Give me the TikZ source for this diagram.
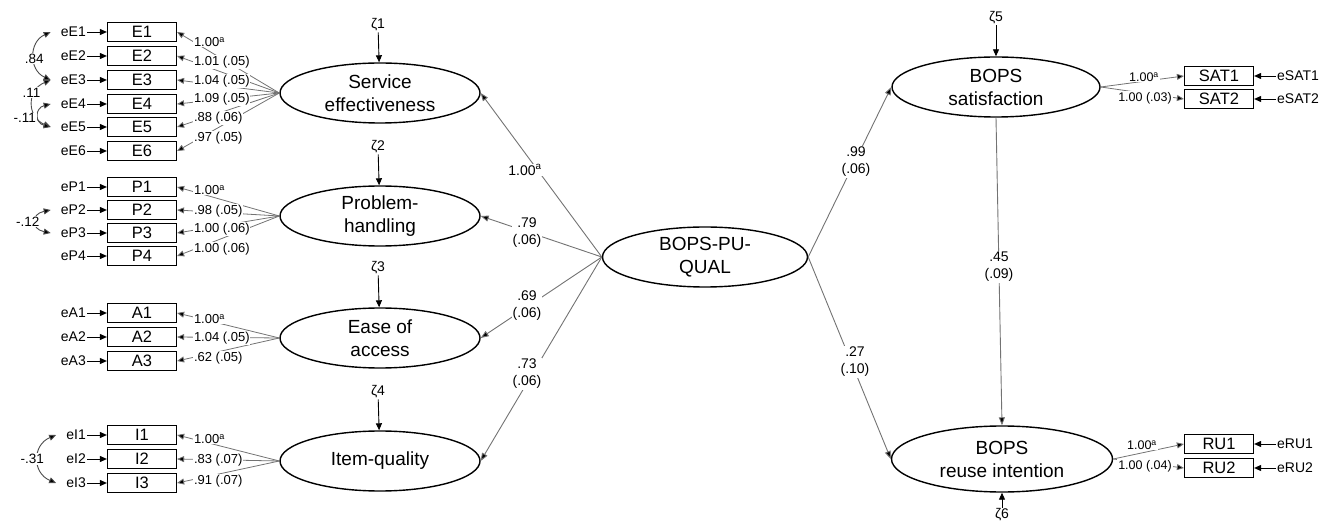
\documentclass[tikz,border=0pt]{standalone}
\usepackage{fontspec}
\setmainfont{Liberation Sans}
\usetikzlibrary{arrows.meta,shapes.geometric}
\begin{document}
\begin{tikzpicture}[x=1pt,y=-1pt,
  lat/.style={ellipse, draw=black, line width=1.4pt, minimum width=200pt, minimum height=60pt, inner sep=0pt, align=center, font=\fontsize{19}{23}\selectfont},
  obs/.style={rectangle, draw=black, line width=1.2pt, minimum width=69pt, minimum height=19pt, inner sep=0pt, font=\fontsize{16.5}{17}\selectfont},
  errl/.style={inner sep=1pt, anchor=east, font=\fontsize{14}{14}\selectfont},
  errr/.style={inner sep=1pt, anchor=west, font=\fontsize{14}{14}\selectfont},
  arr/.style={draw=black, line width=0.9pt, -{Triangle[length=7pt,width=6pt]}},
  load/.style={draw=black!55, line width=0.8pt, -{Triangle[length=7pt,width=6pt,fill=black]}},
  path/.style={draw=black!55, line width=0.9pt, -{Triangle[length=8pt,width=6pt,fill=black]}},
  cov/.style={draw=black!70, line width=0.9pt, {Triangle[length=7pt,width=6pt,fill=black]}-{Triangle[length=7pt,width=6pt,fill=black]}},
  llab/.style={fill=white, inner sep=0.8pt, anchor=west, font=\fontsize{13}{13}\selectfont},
  rlab/.style={fill=white, inner sep=0.8pt, font=\fontsize{12.5}{13}\selectfont},
  plab/.style={fill=white, inner sep=1pt, align=center, font=\fontsize{14}{17}\selectfont},
  clab/.style={fill=white, inner sep=0.8pt, font=\fontsize{13.5}{14}\selectfont},
  zlab/.style={inner sep=1pt, font=\fontsize{14}{14}\selectfont}
]
\useasboundingbox (0,0) rectangle (1336,526);

% latent variables
\node[lat] (se) at (380,93) {Service\\effectiveness};
\node[lat] (ph) at (380,216) {Problem-\\handling};
\node[lat] (ea) at (380,338) {Ease of\\access};
\node[lat] (iq) at (380,461) {Item-quality};
\node[lat, minimum width=205pt] (pu) at (705,257) {BOPS-PU-\\QUAL};
\node[lat, minimum width=208pt] (sat) at (996,87) {BOPS\\satisfaction};
\node[lat, minimum width=221pt, minimum height=66pt] (ru) at (1002,459) {BOPS\\reuse intention};

% disturbances
\node[zlab] (z1) at (378,25) {ζ1};
\node[zlab] (z2) at (378,147) {ζ2};
\node[zlab] (z3) at (378,268) {ζ3};
\node[zlab] (z4) at (378,392) {ζ4};
\node[zlab] (z5) at (996,18) {ζ5};
\node[zlab] (z6) at (1002,515) {ζ6};
\draw[arr] (z1) -- (se);
\draw[arr] (z2) -- (ph);
\draw[arr] (z3) -- (ea);
\draw[arr] (z4) -- (iq);
\draw[arr] (z5) -- (sat);
\draw[arr] (z6) -- (ru);

% indicators, left
\foreach \n/\y in {1/32,2/56,3/80,4/104,5/127,6/151}{
  \node[obs] (E\n) at (142,\y) {E\n};
  \node[errl] (eE\n) at (87,\y) {eE\n};
  \draw[arr] (eE\n) -- (E\n);
  \draw[load] (se.west) -- (E\n.east);
}
\foreach \n/\y in {1/187,2/210,3/233,4/256}{
  \node[obs] (P\n) at (142,\y) {P\n};
  \node[errl] (eP\n) at (87,\y) {eP\n};
  \draw[arr] (eP\n) -- (P\n);
  \draw[load] (ph.west) -- (P\n.east);
}
\foreach \n/\y in {1/313,2/337,3/361}{
  \node[obs] (A\n) at (142,\y) {A\n};
  \node[errl] (eA\n) at (87,\y) {eA\n};
  \draw[arr] (eA\n) -- (A\n);
  \draw[load] (ea.west) -- (A\n.east);
}
\foreach \n/\y in {1/435,2/459,3/483}{
  \node[obs] (I\n) at (142,\y) {I\n};
  \node[errl] (eI\n) at (87,\y) {eI\n};
  \draw[arr] (eI\n) -- (I\n);
  \draw[load] (iq.west) -- (I\n.east);
}

% loading labels, left
\foreach \y/\t in {42/{1.00\textsuperscript{a}},62/{1.01 (.05)},81/{1.04 (.05)},99/{1.09 (.05)},118/{.88 (.06)},138/{.97 (.05)},
                   190/{1.00\textsuperscript{a}},211/{.98 (.05)},229/{1.00 (.06)},249/{1.00 (.06)},
                   319/{1.00\textsuperscript{a}},338/{1.04 (.05)},358/{.62 (.05)},
                   439/{1.00\textsuperscript{a}},460/{.83 (.07)},481/{.91 (.07)}}{
  \node[llab] (ll\y) at (193,\y) {\t};
}

% indicators, right
\node[obs] (SAT1) at (1219,76) {SAT1};
\node[obs] (SAT2) at (1219,99) {SAT2};
\node[obs] (RU1) at (1219,444) {RU1};
\node[obs] (RU2) at (1219,468) {RU2};
\node[errr] (eSAT1) at (1276,76) {eSAT1};
\node[errr] (eSAT2) at (1276,99) {eSAT2};
\node[errr] (eRU1) at (1276,444) {eRU1};
\node[errr] (eRU2) at (1276,468) {eRU2};
\draw[arr] (eSAT1) -- (SAT1);
\draw[arr] (eSAT2) -- (SAT2);
\draw[arr] (eRU1) -- (RU1);
\draw[arr] (eRU2) -- (RU2);
\draw[load] (sat.east) -- (SAT1.west);
\draw[load] (sat.east) -- (SAT2.west);
\draw[load] (ru.east) -- (RU1.west);
\draw[load] (ru.east) -- (RU2.west);
\node[rlab] (rl1) at (1144,77) {1.00\textsuperscript{a}};
\node[rlab] (rl2) at (1145,98) {1.00 (.03)};
\node[rlab] (rl3) at (1142,445) {1.00\textsuperscript{a}};
\node[rlab] (rl4) at (1145,466) {1.00 (.04)};

% structural paths
\draw[path] (pu.west) -- (se.east);
\draw[path] (pu.west) -- (ph.east);
\draw[path] (pu.west) -- (ea.east);
\draw[path] (pu.west) -- (iq.east);
\draw[path] (pu.east) -- (sat.west);
\draw[path] (pu.east) -- (ru.west);
\draw[path] (sat.south) -- (ru.north);
\node[plab] (p1) at (525,170) {1.00\textsuperscript{a}};
\node[plab] (p2) at (527,233) {.79\\(.06)};
\node[plab] (p3) at (527,306) {.69\\(.06)};
\node[plab] (p4) at (527,374) {.73\\(.06)};
\node[plab] (p5) at (856,162) {.99\\(.06)};
\node[plab] (p6) at (855,362) {.27\\(.10)};
\node[plab] (p7) at (999,267) {.45\\(.09)};

% covariances
\draw[cov] ([xshift=-9pt]eE1.west) .. controls +(-22,10) and +(-22,-10) .. node[clab, pos=0.55]{.84} ([xshift=-9pt]eE3.west);
\draw[cov] ([xshift=-9pt]eE3.west) .. controls +(-24,10) and +(-24,-10) .. node[clab, pos=0.3, xshift=-4pt]{.11} ([xshift=-9pt]eE5.west);
\draw[cov] ([xshift=-9pt]eE4.west) .. controls +(-16,4) and +(-16,-4) .. node[clab, pos=0.6, left=2pt]{-.11} ([xshift=-9pt]eE5.west);
\draw[cov] ([xshift=-9pt]eP2.west) .. controls +(-20,4) and +(-20,-4) .. node[clab, pos=0.5, xshift=-8pt]{-.12} ([xshift=-9pt]eP3.west);
\draw[cov] ([xshift=-9pt]eI1.west) .. controls +(-24,10) and +(-24,-10) .. node[clab, pos=0.5, xshift=-6pt]{-.31} ([xshift=-9pt]eI3.west);
\end{tikzpicture}
\end{document}
